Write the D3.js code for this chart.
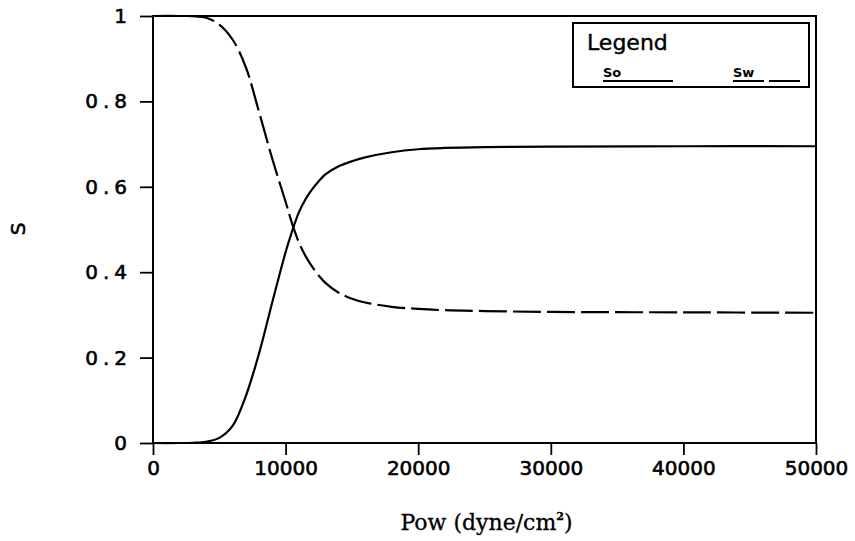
<!DOCTYPE html>
<html>
<head>
<meta charset="utf-8">
<script src="https://cdn.jsdelivr.net/npm/d3@7"></script>
<style>
  body { margin: 0; background: #fff; }
  svg { display: block; }
  .tick text { font-family: "DejaVu Sans", sans-serif; fill: #000; stroke: #000; stroke-width: 0.6; }
</style>
</head>
<body>
<svg></svg>
<script>
// Pressure values (dyne/cm2) where the curves were read
const pow = [0, 2000, 3000, 4000, 5000, 6000, 7000, 8000, 9000, 10000, 10500, 11000, 11500,
  12000, 12500, 13000, 14000, 15000, 16000, 18000, 20000, 22000, 25000, 30000, 40000, 50000];
// Oil saturation (solid)
const so = [0, 0, 0.0005, 0.003, 0.012, 0.04, 0.11, 0.21, 0.33, 0.447, 0.497, 0.54, 0.571,
  0.594, 0.613, 0.629, 0.648, 0.66, 0.669, 0.681, 0.688, 0.691, 0.693, 0.694, 0.695, 0.695];
// Water saturation (dashed)
const sw = [1, 1, 0.9995, 0.996, 0.98, 0.945, 0.88, 0.775, 0.665, 0.565, 0.513, 0.47, 0.438,
  0.413, 0.392, 0.375, 0.352, 0.338, 0.329, 0.319, 0.314, 0.311, 0.309, 0.307, 0.306, 0.305];

const xTicks = [0, 10000, 20000, 30000, 40000, 50000];
const yTicks = [0, 0.2, 0.4, 0.6, 0.8, 1];
const yTickLabels = ["0", "0.2", "0.4", "0.6", "0.8", "1"];

const margin = { l: 153, r: 39, t: 16, b: 98 };
const W = 855, H = 541;
const width = W - margin.l - margin.r;
const height = H - margin.t - margin.b;

const svg = d3.select("svg")
  .attr("width", W)
  .attr("height", H);

const g = svg.append("g")
  .attr("transform", `translate(${margin.l}, ${margin.t})`);

const x = d3.scaleLinear().domain([0, 50000]).range([0, width]);
const y = d3.scaleLinear().domain([0, 1]).range([height, 0]);

// axes
g.append("g")
  .attr("transform", `translate(0, ${height})`)
  .call(d3.axisBottom(x).tickValues(xTicks).tickFormat(d3.format("d"))
    .tickSize(12).tickSizeOuter(0).tickPadding(6))
  .call(a => a.selectAll("text").attr("font-size", 20))
  .call(a => a.select(".domain").remove());

g.append("g")
  .call(d3.axisLeft(y).tickValues(yTicks).tickFormat((d, i) => yTickLabels[i])
    .tickSize(13).tickSizeOuter(0).tickPadding(8))
  .call(a => a.selectAll("text").attr("font-size", 20).attr("letter-spacing", 5))
  .call(a => a.select(".domain").remove());

g.selectAll(".tick line").attr("stroke", "#000").attr("stroke-width", 1.8);

// frame
g.append("rect")
  .attr("width", width)
  .attr("height", height)
  .attr("fill", "none")
  .attr("stroke", "#000")
  .attr("stroke-width", 2);

// curves
const line = d3.line()
  .x(d => x(d[0]))
  .y(d => y(d[1]))
  .curve(d3.curveCatmullRom.alpha(0.5));

g.append("path")
  .datum(pow.map((p, i) => [p, so[i]]))
  .attr("d", line)
  .attr("fill", "none")
  .attr("stroke", "#000")
  .attr("stroke-width", 2.2);

g.append("path")
  .datum(pow.map((p, i) => [p, sw[i]]))
  .attr("d", line)
  .attr("fill", "none")
  .attr("stroke", "#000")
  .attr("stroke-width", 2.2)
  .attr("stroke-dasharray", "28,6");

// axis titles
const xt = svg.append("text")
  .attr("x", margin.l + width / 2 + 2)
  .attr("y", 530)
  .attr("text-anchor", "middle")
  .attr("font-family", "DejaVu Serif, serif")
  .attr("font-size", 22)
  .attr("stroke", "#000")
  .attr("stroke-width", 0.3);
xt.append("tspan").text("Pow (dyne/cm");
xt.append("tspan")
  .attr("dy", -10)
  .attr("font-size", 11)
  .attr("font-weight", "bold")
  .text("2");
xt.append("tspan")
  .attr("dy", 10)
  .text(")");

svg.append("text")
  .attr("transform", "translate(25, 229) rotate(-90)")
  .attr("text-anchor", "middle")
  .attr("font-family", "DejaVu Sans, sans-serif")
  .attr("font-size", 20)
  .attr("stroke", "#000")
  .attr("stroke-width", 0.6)
  .text("S");

// legend
const lg = svg.append("g");
lg.append("rect")
  .attr("x", 573).attr("y", 23)
  .attr("width", 236).attr("height", 64)
  .attr("fill", "#fff")
  .attr("stroke", "#000")
  .attr("stroke-width", 2);

lg.append("text")
  .attr("x", 587).attr("y", 50)
  .attr("font-family", "DejaVu Sans, sans-serif")
  .attr("font-size", 22)
  .attr("stroke", "#000")
  .attr("stroke-width", 0.4)
  .text("Legend");

lg.append("text")
  .attr("x", 603).attr("y", 77)
  .attr("font-family", "DejaVu Sans, sans-serif")
  .attr("font-size", 13)
  .attr("font-weight", "bold")
  .text("So");
lg.append("line")
  .attr("x1", 603).attr("x2", 673)
  .attr("y1", 81).attr("y2", 81)
  .attr("stroke", "#000").attr("stroke-width", 2);

lg.append("text")
  .attr("x", 733).attr("y", 77)
  .attr("font-family", "DejaVu Sans, sans-serif")
  .attr("font-size", 13)
  .attr("font-weight", "bold")
  .text("Sw");
lg.append("line")
  .attr("x1", 733).attr("x2", 800)
  .attr("y1", 81).attr("y2", 81)
  .attr("stroke", "#000").attr("stroke-width", 2)
  .attr("stroke-dasharray", "31,5");
</script>
</body>
</html>
